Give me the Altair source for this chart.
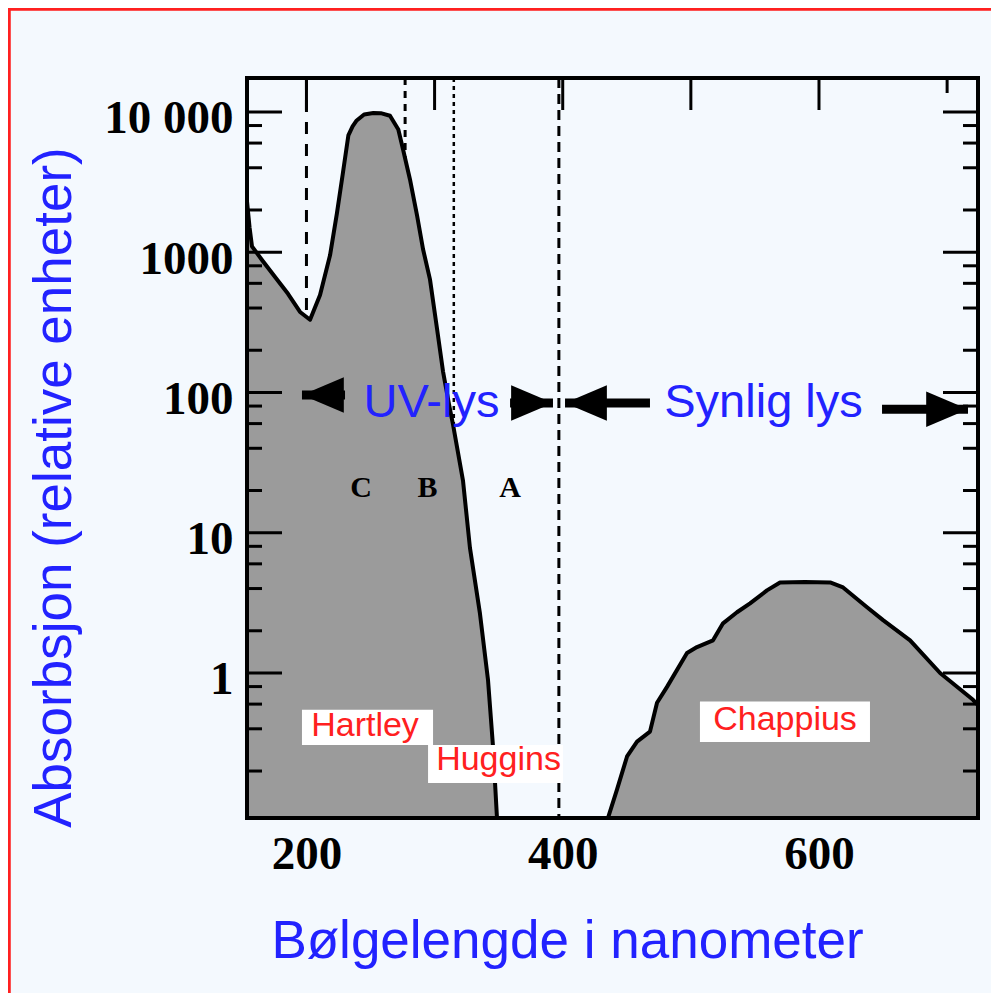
import altair as alt
import pandas as pd

# ---------------- data ----------------
# Hartley / Huggins band
uv_nm = [153.6, 155.6, 157.5, 165.3, 175.5, 185.6, 195.0, 202.8, 210.6, 218.4,
         223.8, 228.5, 232.7, 236.0, 239.2, 245.0, 252.2, 258.0, 265.2, 271.7,
         275.4, 280.8, 286.3, 291.0, 296.4, 301.9, 306.6, 311.3, 314.4, 322.2,
         327.6, 335.4, 341.7, 345.6, 348.7]
uv_abs = [2300, 1500, 1100, 880, 665, 505, 375, 330, 495, 950,
          1900, 3700, 6800, 7900, 8700, 9600, 9840, 9800, 9400, 7500,
          5400, 3300, 1830, 1050, 640, 285, 141, 82, 59, 23.4,
          7.8, 2.66, 0.89, 0.30, 0.0925]
# Chappuis band
vis_nm = [435.3, 442.4, 450.2, 458.0, 468.1, 473.6, 481.4, 497.0, 504.8, 517.3,
          525.1, 536.0, 546.2, 559.4, 569.6, 589.0, 608.7, 618.8, 637.5, 650.0,
          671.1, 694.5, 720.2, 724.1]
vis_abs = [0.0925, 0.148, 0.254, 0.324, 0.382, 0.613, 0.796, 1.39, 1.53, 1.71,
           2.26, 2.71, 3.14, 3.88, 4.42, 4.45, 4.42, 4.07, 2.94, 2.38,
           1.71, 1.0, 0.644, 0.59]

X_DOMAIN = [153.6, 724.1]
Y_DOMAIN = [0.0925, 17460]
Y_BASE = 0.0925

x_label_vals = [200, 400, 600]
y_label_vals = [1, 10, 100, 1000, 10000]
y_major_ticks = [1, 10, 100, 1000, 10000]
y_minor_ticks = [0.2, 0.4, 0.6, 0.8, 2, 4, 6, 8, 20, 40, 60, 80,
                 200, 400, 600, 800, 2000, 4000, 6000, 8000]
top_major_ticks = [200, 300, 400, 500, 600]
top_minor_ticks = [700]

boundary_nm = [200, 277, 315, 397]

arrow_tail = [230.1, 358.9, 468.1, 649.2]
arrow_tip = [196.5, 392.4, 401.8, 716.3]
arrow_level = [96, 84, 84, 76]
arrow_dir = ["left", "right", "left", "right"]

region_text = ["UV-lys", "Synlig lys"]
region_nm = [297.6, 556.7]
region_level = [84, 84]

letter_text = ["C", "B", "A"]
letter_nm = [242.6, 294.5, 358.9]
letter_level = [21, 21, 21]

name_text = ["Hartley", "Huggins", "Chappius"]
name_nm = [245.7, 349.9, 573.5]
name_level = [0.422, 0.238, 0.466]
box_nm_lo = [196.5, 294.9, 507.1]
box_nm_hi = [298.8, 400.2, 639.8]
box_lo = [0.307, 0.164, 0.322]
box_hi = [0.548, 0.307, 0.625]

# ---------------- styling ----------------
W, H = 731, 740
BLUE = "#2222ff"
RED = "#ff2020"
BG = "#f4f9fe"
FILL = "#9b9b9b"
SERIF = "Liberation Serif"
SANS = "Liberation Sans"

xs = alt.Scale(domain=X_DOMAIN, nice=False, zero=False)
ys = alt.Scale(type="log", domain=Y_DOMAIN, nice=False)

x_axis = alt.Axis(values=x_label_vals, format="d", labelFont=SERIF, labelFontSize=47,
                  labelFontWeight="bold", labelColor="black", labelPadding=13,
                  ticks=False, domain=False, grid=False,
                  title="Bølgelengde i nanometer", titleFont=SANS, titleFontSize=53,
                  titleFontWeight="normal", titleColor=BLUE, titleX=320, titleY=139,
                  titleBaseline="alphabetic", titleAlign="center")
y_axis = alt.Axis(values=y_label_vals,
                  labelExpr="datum.value == 10000 ? '10 000' : format(datum.value, 'd')",
                  labelFont=SERIF, labelFontSize=47, labelFontWeight="bold",
                  labelColor="black", labelPadding=14, labelOffset=7,
                  ticks=False, domain=False, grid=False,
                  title="Absorbsjon (relative enheter)", titleFont=SANS, titleFontSize=53,
                  titleFontWeight="normal", titleColor=BLUE, titleX=-177, titleY=409,
                  titleAngle=-90, titleBaseline="alphabetic", titleAlign="center")


def X(f):
    return alt.X(f, type="quantitative", scale=xs, axis=x_axis)


def Y(f):
    return alt.Y(f, type="quantitative", scale=ys, axis=y_axis)


# ---------------- tables ----------------
curve = pd.DataFrame({
    "nm": uv_nm + vis_nm,
    "absorb": uv_abs + vis_abs,
    "band": ["uv"] * len(uv_nm) + ["vis"] * len(vis_nm),
})
bounds = pd.DataFrame({"nm": boundary_nm})
arrows = pd.DataFrame({"tail": arrow_tail, "tip": arrow_tip,
                       "level": arrow_level, "dir": arrow_dir})
regions = pd.DataFrame({"t": region_text, "nm": region_nm, "level": region_level})
letters = pd.DataFrame({"t": letter_text, "nm": letter_nm, "level": letter_level})
names = pd.DataFrame({"t": name_text, "nm": name_nm, "level": name_level,
                      "x1": box_nm_lo, "x2": box_nm_hi, "y1": box_lo, "y2": box_hi})
ymaj = pd.DataFrame({"v": y_major_ticks})
ymin = pd.DataFrame({"v": y_minor_ticks})
tmaj = pd.DataFrame({"v": top_major_ticks})
tmin = pd.DataFrame({"v": top_minor_ticks})

# ---------------- layers ----------------
dash_styles = [([12, 10], 3), ([7, 6], 3), ([4, 4], 2.5), ([10, 6], 3)]
rule_layers = []
for i, (dash, sw) in enumerate(dash_styles):
    rule_layers.append(
        alt.Chart(bounds.iloc[[i]]).mark_rule(color="black", strokeDash=dash, strokeWidth=sw)
        .encode(x=X("nm"))
    )

area = alt.Chart(curve).mark_area(color=FILL, opacity=1, clip=True).encode(
    x=X("nm"), y=Y("absorb"), y2=alt.Y2(datum=Y_BASE), detail="band:N")
line = alt.Chart(curve).mark_line(color="black", strokeWidth=4, clip=True,
                                  strokeJoin="round").encode(
    x=X("nm"), y=Y("absorb"), detail="band:N")

boxes = alt.Chart(names).mark_rect(color="white", opacity=1).encode(
    x=X("x1"), x2="x2", y=Y("y1"), y2="y2")
name_labels = alt.Chart(names).mark_text(font=SANS, fontSize=34, color=RED,
                                         baseline="middle", align="center").encode(
    x=X("nm"), y=Y("level"), text="t:N")

left_major = alt.Chart(ymaj).mark_rule(color="black", strokeWidth=3).encode(
    y=Y("v"), x=alt.value(0), x2=alt.value(35))
left_minor = alt.Chart(ymin).mark_rule(color="black", strokeWidth=3).encode(
    y=Y("v"), x=alt.value(0), x2=alt.value(15))
right_major = alt.Chart(ymaj).mark_rule(color="black", strokeWidth=3).encode(
    y=Y("v"), x=alt.value(W), x2=alt.value(W - 35))
right_minor = alt.Chart(ymin).mark_rule(color="black", strokeWidth=3).encode(
    y=Y("v"), x=alt.value(W), x2=alt.value(W - 15))
top_major = alt.Chart(tmaj).mark_rule(color="black", strokeWidth=3).encode(
    x=X("v"), y=alt.value(0), y2=alt.value(32))
top_minor = alt.Chart(tmin).mark_rule(color="black", strokeWidth=3).encode(
    x=X("v"), y=alt.value(0), y2=alt.value(15))

shafts = alt.Chart(arrows).mark_rule(color="black", strokeWidth=9).encode(
    x=X("tail"), x2="tip", y=Y("level"))
heads = alt.Chart(arrows).mark_point(filled=True, color="black", opacity=1, size=1750).encode(
    x=X("tip"), y=Y("level"),
    shape=alt.Shape("dir:N", scale=alt.Scale(domain=["left", "right"],
                                              range=["M0,0L2,-0.85L2,0.85Z", "M0,0L-2,-0.85L-2,0.85Z"]),
                    legend=None))

region_labels = alt.Chart(regions).mark_text(font=SANS, fontSize=47, color=BLUE,
                                             baseline="middle", align="center").encode(
    x=X("nm"), y=Y("level"), text="t:N")
letter_labels = alt.Chart(letters).mark_text(font=SERIF, fontSize=30, fontWeight="bold",
                                             color="black", baseline="middle",
                                             align="center").encode(
    x=X("nm"), y=Y("level"), text="t:N")

frame = alt.Chart(ymaj).mark_rect(fillOpacity=0, stroke="black", strokeWidth=4).encode(
    x=alt.value(0), x2=alt.value(W), y=alt.value(0), y2=alt.value(H))
border = alt.Chart(ymaj).mark_rect(fillOpacity=0, stroke=RED, strokeWidth=2.5).encode(
    x=alt.value(-238), x2=alt.value(W + 60), y=alt.value(-69), y2=alt.value(H + 250))

chart = alt.layer(
    *rule_layers, area, line, boxes, name_labels,
    left_major, left_minor, right_major, right_minor, top_major, top_minor,
    shafts, heads, region_labels, letter_labels, frame, border
).properties(
    width=W, height=H,
    padding={"left": 239, "top": 70, "right": 13, "bottom": 175},
    autosize=alt.AutoSizeParams(type="none"),
    background=BG,
).configure_view(stroke=None)

chart.save("out.html", embed_options={"renderer": "svg", "actions": False})
